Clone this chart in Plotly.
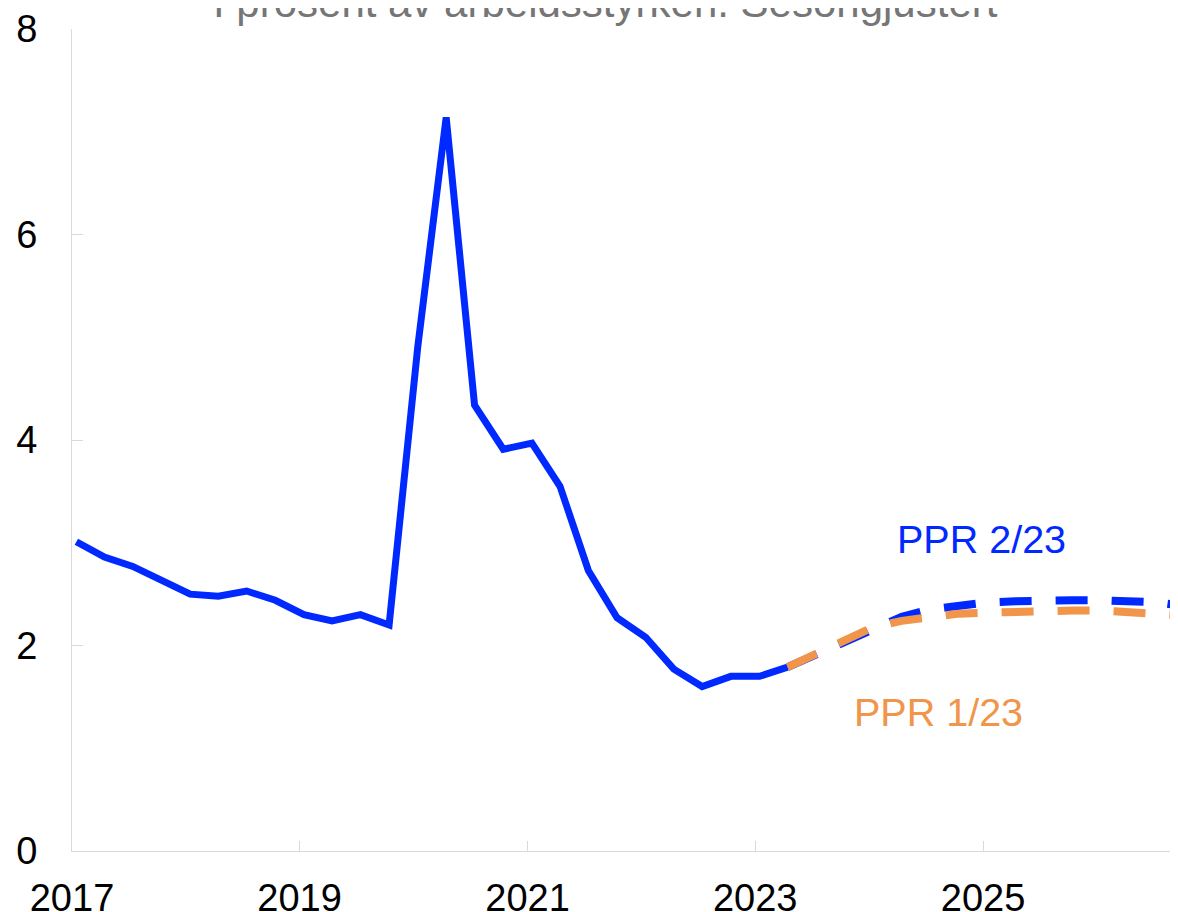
import plotly.graph_objects as go

# Quarterly dates (plotted mid-first-month of each quarter)
quarters = [f"{y}-{m:02d}-15" for y in range(2017, 2027) for m in (1, 4, 7, 10)]

# Registered unemployment history (2017Q1 - 2023Q2)
history = [3.01, 2.86, 2.77, 2.63, 2.50, 2.48, 2.53, 2.44, 2.30, 2.24, 2.30, 2.20,
           4.91, 7.14, 4.34, 3.91, 3.97, 3.55, 2.73, 2.27, 2.08, 1.77, 1.60, 1.70,
           1.70, 1.79]

# Projections 2023Q2 - 2026Q4
ppr_2_23 = [1.79, 1.91, 2.04, 2.16, 2.28, 2.35, 2.39, 2.42, 2.43, 2.44, 2.44, 2.44,
            2.43, 2.42, 2.38]
ppr_1_23 = [1.79, 1.92, 2.07, 2.18, 2.24, 2.27, 2.31, 2.32, 2.33, 2.33, 2.34, 2.34,
            2.33, 2.32, 2.29]

title_text = "I prosent av arbeidsstyrken. Sesongjustert"
label_new = "PPR 2/23"
label_old = "PPR 1/23"

BLUE = "#0029FF"
ORANGE = "#F0954A"
FONT = "Arial, Liberation Sans, sans-serif"

n_hist = len(history)
proj_x = quarters[n_hist - 1:n_hist - 1 + len(ppr_2_23)]

fig = go.Figure()
fig.add_trace(go.Scatter(x=quarters[:n_hist], y=history, mode="lines",
                         line=dict(color=BLUE, width=7), showlegend=False,
                         hoverinfo="skip"))
fig.add_trace(go.Scatter(x=proj_x, y=ppr_2_23, mode="lines",
                         line=dict(color=BLUE, width=8, dash="32px,24px"),
                         showlegend=False, hoverinfo="skip"))
fig.add_trace(go.Scatter(x=proj_x, y=ppr_1_23, mode="lines",
                         line=dict(color=ORANGE, width=8, dash="32px,24px"),
                         showlegend=False, hoverinfo="skip"))

fig.add_annotation(text=title_text, xref="paper", yref="paper", x=0.482, y=1.032,
                   xanchor="center", yanchor="middle", showarrow=False,
                   font=dict(family=FONT, size=42, color="#767676"))
fig.add_annotation(text=label_new, xref="paper", yref="paper", x=(981 - 72) / 1106,
                   y=(851 - 539) / 822, xanchor="center", yanchor="middle",
                   showarrow=False, font=dict(family=FONT, size=39.5, color=BLUE))
fig.add_annotation(text=label_old, xref="paper", yref="paper", x=(938 - 72) / 1106,
                   y=(851 - 712) / 822, xanchor="center", yanchor="middle",
                   showarrow=False, font=dict(family=FONT, size=39.5, color=ORANGE))

fig.update_layout(
    width=1170, height=904,
    margin=dict(l=64, r=0, t=21, b=61),
    plot_bgcolor="white", paper_bgcolor="white",
    font=dict(family=FONT, size=38, color="black"),
    xaxis=dict(type="date", range=["2017-01-01", "2026-09-18"],
               tick0="2017-01-01", dtick="M24", tickformat="%Y",
               showgrid=False, zeroline=False,
               showline=True, linecolor="#d9d9d9", linewidth=1,
               ticks="inside", ticklen=10, tickcolor="#d9d9d9",
               ticklabelstandoff=13, automargin=False),
    yaxis=dict(range=[0, 8], tick0=0, dtick=2,
               showgrid=False, zeroline=False,
               showline=True, linecolor="#d9d9d9", linewidth=1,
               ticks="inside", ticklen=11, tickcolor="#d9d9d9",
               ticklabelstandoff=26, automargin=False),
)

fig.write_html("out.html")
